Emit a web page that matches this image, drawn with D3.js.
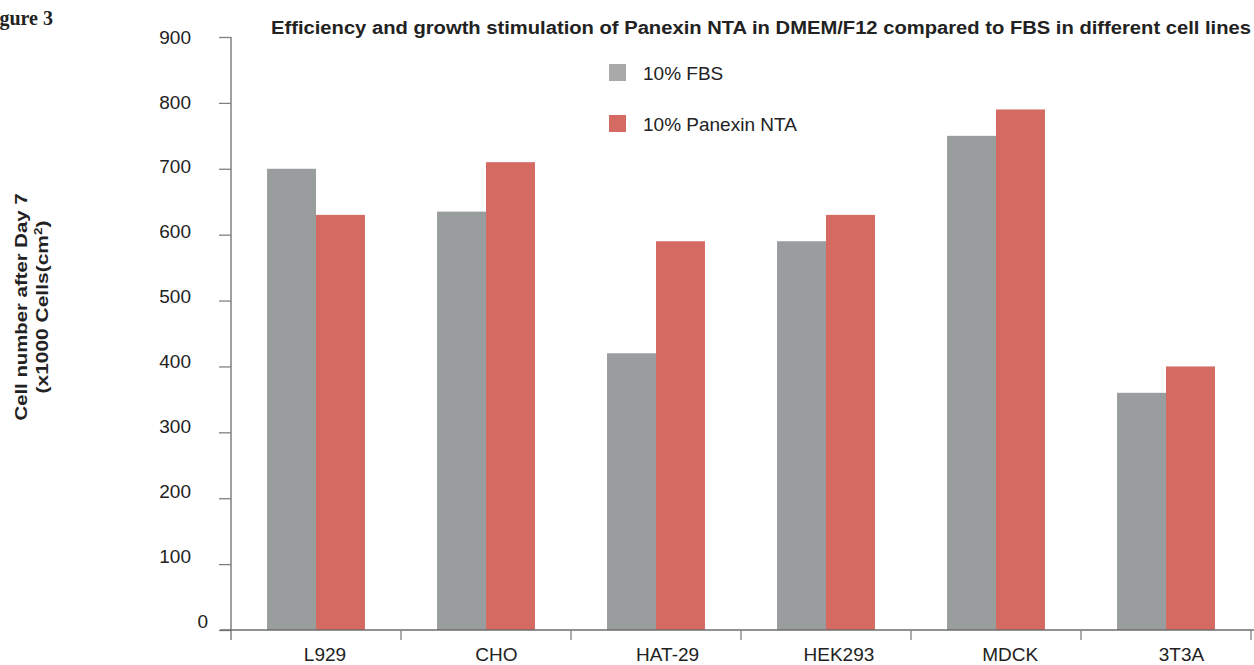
<!DOCTYPE html>
<html>
<head>
<meta charset="utf-8">
<script src="https://cdn.jsdelivr.net/npm/d3@7"></script>
<style>
  body { margin: 0; background: #fff; }
  svg { display: block; font-family: "Liberation Sans", Arial, sans-serif; }
</style>
</head>
<body>
<svg id="chart" width="1254" height="665"></svg>
<script>
const categories = ["L929", "CHO", "HAT-29", "HEK293", "MDCK", "3T3A"];
const seriesNames = ["10% FBS", "10% Panexin NTA"];
const fbsValues = [700, 635, 420, 590, 750, 360];
const panexinValues = [630, 710, 590, 630, 790, 400];
const yTicks = [0, 100, 200, 300, 400, 500, 600, 700, 800, 900];

const colors = ["#9a9d9e", "#d56a62"];
const axisColor = "#808080";

const width = 1254, height = 665;
const margin = { top: 37, right: 3, bottom: 35, left: 231 };

const rows = categories.map((c, i) => ({ cat: c, values: [fbsValues[i], panexinValues[i]] }));

const svg = d3.select("#chart");

const x0 = d3.scaleBand()
    .domain(categories)
    .range([margin.left, width - margin.right])
    .padding(0);

const bw = x0.bandwidth();
const x1 = d3.scaleBand()
    .domain(seriesNames)
    .range([bw * 0.212, bw * 0.788])
    .padding(0);

const y = d3.scaleLinear()
    .domain([0, 900])
    .range([height - margin.bottom, margin.top]);

// bars
const groups = svg.append("g")
    .selectAll("g")
    .data(rows)
    .join("g")
    .attr("transform", d => `translate(${x0(d.cat)},0)`);

groups.selectAll("rect")
    .data(d => d.values.map((v, i) => ({ name: seriesNames[i], value: v, i })))
    .join("rect")
    .attr("x", d => x1(d.name))
    .attr("y", d => y(d.value))
    .attr("width", x1.bandwidth())
    .attr("height", d => y(0) - y(d.value))
    .attr("fill", d => colors[d.i]);

// y axis
const yAxis = svg.append("g")
    .attr("transform", `translate(${margin.left},0)`)
    .call(d3.axisLeft(y).tickValues(yTicks).tickSize(12).tickSizeOuter(0).tickPadding(28));
yAxis.select(".domain").attr("stroke", axisColor).attr("stroke-width", 1.5)
    .attr("d", `M0,${y(900)}V${y(0) + 10}`);
yAxis.selectAll(".tick line").attr("stroke", axisColor).attr("stroke-width", 1.3);
yAxis.selectAll(".tick text")
    .attr("font-size", 19)
    .attr("fill", "#222")
    .attr("dy", d => (0.32 - (900 - d) / 900 * 0.45) + "em")
    .attr("x", d => d === 0 ? -23 : -40);

// x axis
const xAxis = svg.append("g")
    .attr("transform", `translate(0,${y(0)})`)
    .call(d3.axisBottom(x0).tickSize(0).tickPadding(18));
xAxis.select(".domain").attr("stroke", "#6e6e6e").attr("stroke-width", 1.5)
    .attr("d", `M${margin.left - 11},0H${width}`);
xAxis.selectAll(".tick text")
    .attr("font-size", 19)
    .attr("fill", "#222")
    .attr("dx", (d, i) => 9 + i * 1.3);

// category separator ticks
svg.append("g")
    .selectAll("line")
    .data(categories.slice(1).concat(["end"]))
    .join("line")
    .attr("x1", d => d === "end" ? width - margin.right : x0(d))
    .attr("x2", d => d === "end" ? width - margin.right : x0(d))
    .attr("y1", y(0))
    .attr("y2", y(0) + 10)
    .attr("stroke", axisColor)
    .attr("stroke-width", 1.3);

// legend
const legend = svg.append("g")
    .selectAll("g")
    .data(seriesNames)
    .join("g")
    .attr("transform", (d, i) => `translate(609,${64 + i * 51})`);
legend.append("rect")
    .attr("width", 17)
    .attr("height", 17)
    .attr("fill", (d, i) => i === 0 ? "#a9a9a9" : colors[1]);
legend.append("text")
    .attr("x", 34)
    .attr("y", 9)
    .attr("dy", "0.35em")
    .attr("font-size", 19)
    .attr("fill", "#222")
    .text(d => d);

// title
svg.append("text")
    .attr("x", 271)
    .attr("y", 34)
    .attr("font-size", 18)
    .attr("font-weight", "bold")
    .attr("fill", "#222")
    .attr("textLength", 980)
    .attr("lengthAdjust", "spacingAndGlyphs")
    .text("Efficiency and growth stimulation of Panexin NTA in DMEM/F12 compared to FBS in different cell lines");

// figure label, cut at the left edge as in the source
svg.append("text")
    .attr("x", 53)
    .attr("y", 25)
    .attr("text-anchor", "end")
    .attr("font-family", "Liberation Serif, serif")
    .attr("font-size", 20)
    .attr("font-weight", "bold")
    .attr("fill", "#222")
    .text("Figure 3");

// y label, two lines
svg.append("text")
    .attr("transform", "translate(27,307) rotate(-90)")
    .attr("text-anchor", "middle")
    .attr("font-size", 17)
    .attr("font-weight", "bold")
    .attr("fill", "#222")
    .attr("textLength", 227)
    .attr("lengthAdjust", "spacingAndGlyphs")
    .text("Cell number after Day 7");

const l2 = svg.append("text")
    .attr("transform", "translate(48,307) rotate(-90)")
    .attr("text-anchor", "middle")
    .attr("font-size", 17)
    .attr("font-weight", "bold")
    .attr("fill", "#222")
    .attr("textLength", 173)
    .attr("lengthAdjust", "spacingAndGlyphs");
l2.append("tspan").text("(x1000 Cells(cm");
l2.append("tspan").attr("font-size", 11).attr("dy", -6).text("2");
l2.append("tspan").attr("dy", 6).text(")");
</script>
</body>
</html>
